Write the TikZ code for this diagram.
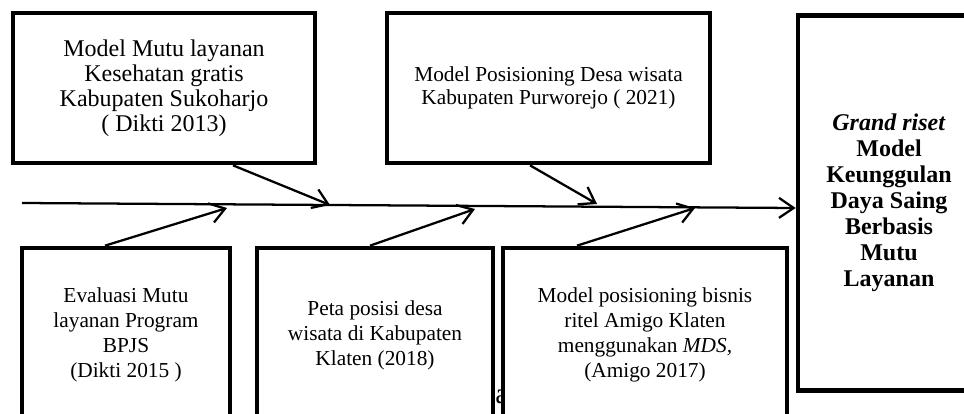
\documentclass[tikz,border=0pt]{standalone}
\usepackage{fontspec}
\setmainfont{Liberation Serif}
\usetikzlibrary{arrows.meta,calc}

\begin{document}
\begin{tikzpicture}
		[%%%%%%%%%%%%%%%%%%%%%%%%%%%%%%
		x=0.75pt, y=-0.75pt,
		box/.style={rectangle,draw=black,line width=3.5pt,fill=white,align=center,inner sep=2pt},
		topbox/.style={box,minimum height=112.5pt},
		lowbox/.style={box,minimum height=130.5pt,font=\fontsize{16}{18.75}\selectfont},
		arr/.style={-{Straight Barb[length=11pt,width=15pt]},line width=1.7pt},
		]%%%%%%%%%%%%%%%%%%%%%%%%%%%%%%
		\useasboundingbox (0,0) rectangle (964,414);
		
		\node[font=\fontsize{22}{22}\selectfont,anchor=base west,inner sep=0pt] (stray) at (495,403) {a};
		
		\node[topbox,minimum width=226.5pt,font=\fontsize{18}{18.75}\selectfont] (mutu) at (164,88)
			{Model Mutu layanan\\ Kesehatan gratis\\ Kabupaten Sukoharjo\\ ( Dikti 2013)};
		\node[topbox,minimum width=242.25pt,font=\fontsize{16}{17.25}\selectfont] (posisi) at (548.5,88)
			{Model Posisioning Desa wisata\\ Kabupaten Purworejo ( 2021)};
		\node[box,minimum width=136.5pt,minimum height=281.25pt,font=\bfseries\fontsize{18}{19.5}\selectfont] (grand) at (889,203)
			{\textit{Grand riset}\\ Model\\ Keunggulan\\ Daya Saing\\ Berbasis\\ Mutu\\ Layanan};
		\node[lowbox,minimum width=156pt] (bpjs) at (126,335)
			{Evaluasi Mutu\\ layanan Program\\ BPJS\\ (Dikti 2015 )};
		\node[lowbox,minimum width=177pt] (peta) at (375,335)
			{Peta posisi desa\\ wisata di Kabupaten\\ Klaten (2018)};
		\node[lowbox,minimum width=213pt] (amigo) at (645,335)
			{Model posisioning bisnis\\ ritel Amigo Klaten\\ menggunakan \textit{MDS,}\\ (Amigo 2017)};
		
		% spine
		\coordinate (tail) at (22,203);
		\draw[arr] (tail) -- ($(grand.west)+(0,5)$);
		
		% branches
		\coordinate (p1) at (330,205);
		\coordinate (p2) at (597,204);
		\coordinate (p3) at (227,208);
		\coordinate (p4) at (475,209);
		\coordinate (p5) at (695,208);
		\foreach \src/\dx/\tip in {mutu.south/69/p1,posisi.south/-18.5/p2,bpjs.north/-21/p3,peta.north/-5/p4,amigo.north/-68/p5}
			\draw[arr] ($(\src)+(\dx,0)$) -- (\tip);
		\end{tikzpicture}
\end{document}
